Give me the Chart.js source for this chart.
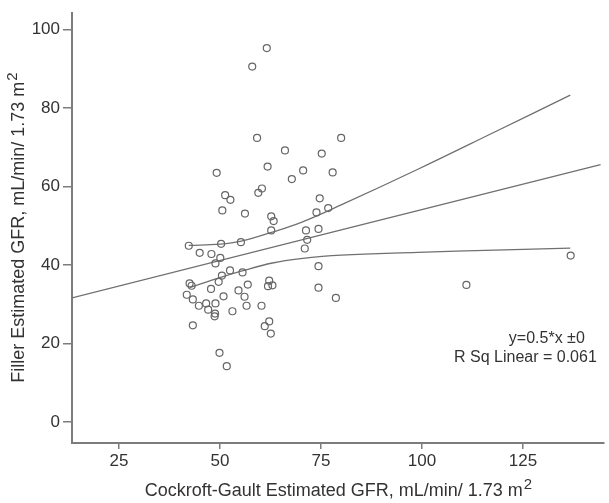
<!DOCTYPE html>
<html>
<head>
<meta charset="utf-8">
<script src="https://cdn.jsdelivr.net/npm/chart.js@4"></script>
<style>
  html, body { margin: 0; padding: 0; background: #fff; }
  canvas { display: block; }
</style>
</head>
<body>
<canvas id="chart" width="609" height="503"></canvas>
<script>
// Cockroft-Gault GFR (x) vs Filler GFR (y)
const cgGfr = [
  61.6, 58.0, 59.2, 66.1, 75.2, 80.0, 49.2, 61.8, 67.8, 70.6,
  77.9, 59.5, 60.4, 51.3, 52.6, 50.6, 56.2, 62.7, 63.3, 74.7,
  73.9, 76.8, 62.7, 71.3, 74.4, 42.3, 50.3, 55.2, 71.6, 71.0,
  74.4, 74.4, 78.7, 111.0, 136.8, 45.0, 47.9, 50.1, 48.9, 52.5,
  50.5, 49.7, 55.6, 42.5, 43.0, 41.8, 43.3, 44.8, 46.6, 47.1,
  48.9, 48.7, 48.8, 47.8, 50.9, 53.1, 54.6, 56.1, 56.9, 56.6,
  60.3, 62.2, 61.9, 63.0, 61.1, 62.2, 62.6, 43.3, 49.9, 51.7
];
const fillerGfr = [
  95.3, 90.6, 72.4, 69.2, 68.4, 72.4, 63.5, 65.1, 61.9, 64.1,
  63.6, 58.4, 59.5, 57.8, 56.6, 53.9, 53.1, 52.4, 51.2, 57.0,
  53.4, 54.5, 48.8, 48.8, 49.2, 44.9, 45.4, 45.8, 46.4, 44.2,
  39.7, 34.2, 31.6, 34.9, 42.4, 43.1, 42.8, 41.8, 40.4, 38.6,
  37.3, 35.7, 38.1, 35.3, 34.7, 32.4, 31.2, 29.6, 30.2, 28.6,
  30.2, 26.9, 27.6, 33.9, 32.0, 28.2, 33.5, 31.9, 35.0, 29.6,
  29.6, 36.0, 34.6, 34.8, 24.4, 25.6, 22.5, 24.6, 17.6, 14.2
];

// fit line and 95% mean CI curves, as drawn
const fitX = [13.4, 144.2];
const fitY = [31.6, 65.6];
const upperX = [42.3, 50, 55, 63, 70, 80, 99, 118, 136.7];
const upperY = [45.0, 45.3, 46.0, 48.4, 50.8, 55.3, 64.4, 73.9, 83.3];
const lowerX = [42.5, 50, 55.5, 63, 70, 80, 99, 118, 136.7];
const lowerY = [34.2, 36.8, 38.5, 40.5, 41.6, 42.5, 43.2, 43.8, 44.3];

const xTicks = [25, 50, 75, 100, 125];
const yTicks = [0, 20, 40, 60, 80, 100];

const xTitle = "Cockroft-Gault Estimated GFR, mL/min/ 1.73 m";
const yTitle = "Filler Estimated GFR, mL/min/ 1.73 m";
const noteLines = ["y=0.5*x \u00b10", "R Sq Linear = 0.061"];

const pairs = (xs, ys) => xs.map((x, i) => ({ x: x, y: ys[i] }));

const lineColor = "#707070";
const axisColor = "#7c7c7c";
const textColor = "#333333";
const fontFamily = "'Liberation Sans', Arial, sans-serif";

// title with a raised "2" after it, centred on (0, 0) of the current transform
function drawTitle(ctx, text) {
  ctx.font = "18px " + fontFamily;
  const w = ctx.measureText(text).width;
  ctx.font = "15px " + fontFamily;
  const sw = ctx.measureText("2").width;
  const start = -(w + sw) / 2;
  ctx.font = "18px " + fontFamily;
  ctx.textAlign = "left";
  ctx.textBaseline = "alphabetic";
  ctx.fillText(text, start, 6);
  ctx.font = "15px " + fontFamily;
  ctx.fillText("2", start + w + 1, -1);
}

const textPlugin = {
  id: "texts",
  afterDraw(chart) {
    const { ctx, chartArea } = chart;
    ctx.save();
    ctx.fillStyle = textColor;

    ctx.save();
    ctx.translate((chartArea.left + chartArea.right) / 2, 490);
    drawTitle(ctx, xTitle);
    ctx.restore();

    ctx.save();
    ctx.translate(18, (chartArea.top + chartArea.bottom) / 2);
    ctx.rotate(-Math.PI / 2);
    drawTitle(ctx, yTitle);
    ctx.restore();

    ctx.font = "16px " + fontFamily;
    ctx.textAlign = "right";
    ctx.textBaseline = "middle";
    ctx.fillText(noteLines[0], chartArea.right - 19, 339);
    ctx.fillText(noteLines[1], chartArea.right - 7, 358);
    ctx.restore();
  },
};

const lineSet = (data) => ({
  type: "line",
  data: data,
  borderColor: lineColor,
  borderWidth: 1.3,
  pointRadius: 0,
  fill: false,
  tension: 0.4,
});

const ctx = document.getElementById("chart").getContext("2d");
new Chart(ctx, {
  type: "scatter",
  data: {
    datasets: [
      {
        data: pairs(cgGfr, fillerGfr),
        pointStyle: "circle",
        pointRadius: 3.5,
        pointBorderWidth: 1.2,
        pointBorderColor: "#666666",
        pointBackgroundColor: "rgba(0,0,0,0)",
        showLine: false,
      },
      lineSet(pairs(fitX, fitY)),
      lineSet(pairs(upperX, upperY)),
      lineSet(pairs(lowerX, lowerY)),
    ],
  },
  options: {
    responsive: false,
    animation: false,
    layout: { padding: { top: 13, right: 0, left: 0, bottom: 0 } },
    plugins: {
      legend: { display: false },
      tooltip: { enabled: false },
    },
    scales: {
      x: {
        type: "linear",
        min: 13.4,
        max: 145,
        afterBuildTicks: (scale) => {
          scale.ticks = xTicks.map((v) => ({ value: v }));
        },
        afterFit: (scale) => {
          scale.height = 60;
        },
        border: { color: axisColor, width: 2 },
        grid: {
          drawOnChartArea: false,
          drawTicks: true,
          tickLength: 6,
          color: axisColor,
          tickColor: axisColor,
          lineWidth: 1.5,
        },
        ticks: {
          color: textColor,
          font: { family: fontFamily, size: 17 },
          padding: 2,
          maxRotation: 0,
        },
      },
      y: {
        type: "linear",
        min: -5.4,
        max: 104.2,
        afterBuildTicks: (scale) => {
          scale.ticks = yTicks.map((v) => ({ value: v }));
        },
        afterFit: (scale) => {
          scale.width = 72;
        },
        border: { color: axisColor, width: 2 },
        grid: {
          drawOnChartArea: false,
          drawTicks: true,
          tickLength: 9,
          color: axisColor,
          tickColor: axisColor,
          lineWidth: 1.5,
        },
        ticks: {
          color: textColor,
          font: { family: fontFamily, size: 17 },
          padding: 3,
        },
      },
    },
  },
  plugins: [textPlugin],
});
</script>
</body>
</html>
